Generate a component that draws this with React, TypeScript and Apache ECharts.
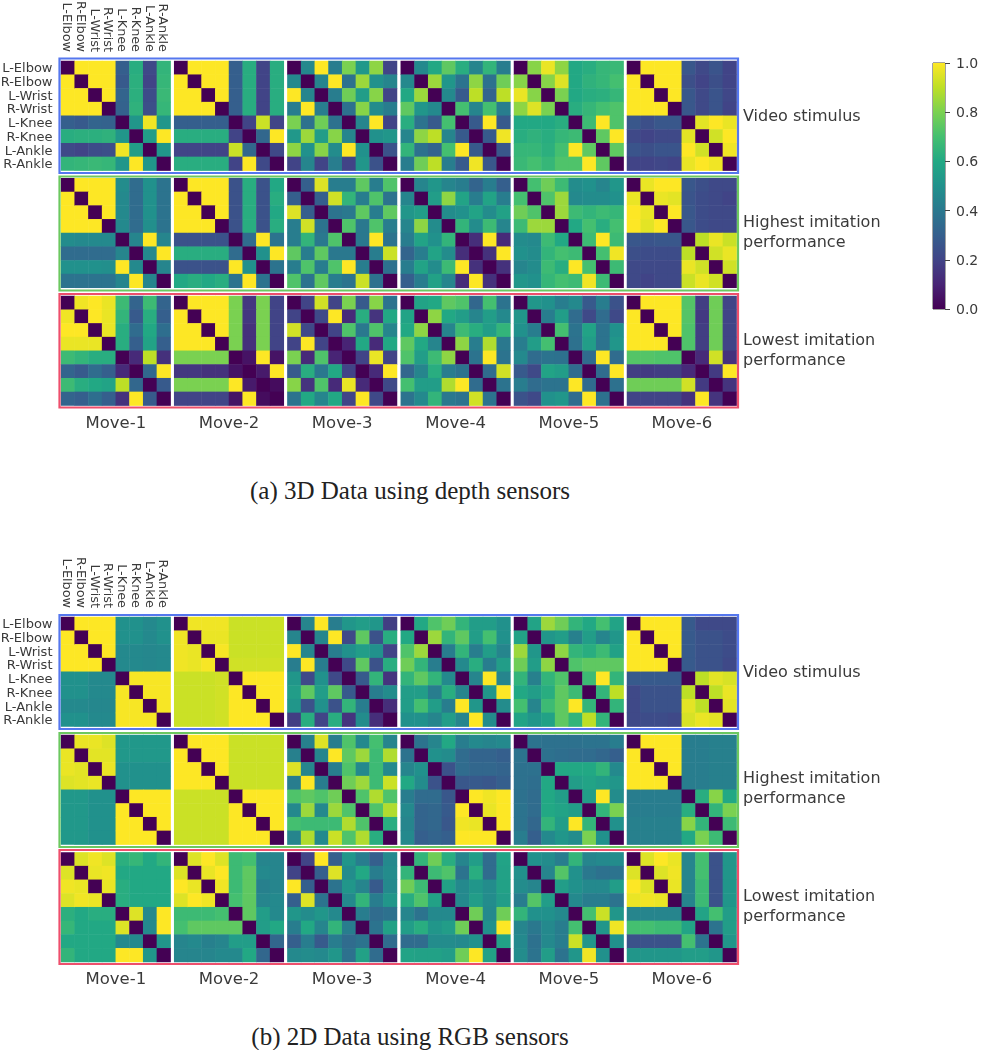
import React, { useEffect, useRef } from "react";
import * as echarts from "echarts";

const joints = ["L-Elbow", "R-Elbow", "L-Wrist", "R-Wrist", "L-Knee", "R-Knee", "L-Ankle", "R-Ankle"];
const moves = ["Move-1", "Move-2", "Move-3", "Move-4", "Move-5", "Move-6"];
const rowTexts = ["Video stimulus", "Highest imitation\nperformance", "Lowest imitation\nperformance"];
const captions = ["(a) 3D Data using depth sensors", "(b) 2D Data using RGB sensors"];
const barTicks = [0, 0.2, 0.4, 0.6, 0.8, 1];
const viridis = ["#440154", "#482475", "#414487", "#355f8d", "#2a788e", "#21918c", "#22a884", "#44bf70", "#7ad151", "#bddf26", "#fde725"];

// Each matrix is symmetric with a zero diagonal: rows list the cells right of the diagonal.
const aV1 = [[1,1,1,.3,.62,.22,.65],[1,1,.28,.63,.2,.66],[1,.32,.63,.23,.67],[.31,.64,.24,.66],[.52,.98,.52],[.55,1],[.52]];
const aV2 = [[1,1,1,.3,.62,.2,.62],[1,1,.3,.62,.2,.62],[1,.3,.62,.2,.62],[.3,.62,.2,.62],[.2,.92,.2],[.33,1],[.22]];
const aV3 = [[.47,1,.42,.8,.53,.83,.2],[.45,1,.37,.85,.5,.45],[.42,.78,.55,.82,.2],[.37,.82,.48,.42],[.45,1,.2],[.5,.52],[.25]];
const aV4 = [[.47,.6,.75,.62,.45,.65,.42],[.85,.52,.38,.83,.37,.78],[.47,.28,.9,.32,.9],[.7,.45,.7,.42],[.28,1,.28],[.28,.98],[.27]];
const aV5 = [[.82,.97,.83,.6,.62,.66,.67],[.82,.95,.6,.64,.66,.7],[.8,.6,.62,.63,.66],[.62,.66,.7,.72],[.68,1,.72],[.75,1],[.75]];
const aV6 = [[1,1,1,.27,.22,.26,.2],[1,1,.24,.2,.24,.2],[1,.27,.22,.26,.21],[.27,.22,.26,.2],[.96,1,.97],[.93,1],[.98]];

const aH1 = [[1,1,1,.48,.35,.5,.38],[1,1,.47,.35,.5,.38],[1,.47,.35,.5,.38],[.47,.35,.49,.38],[.45,1,.45],[.47,1],[.45]];
const aH2 = [[1,1,1,.25,.62,.25,.6],[1,1,.25,.62,.25,.62],[1,.25,.62,.25,.6],[.25,.62,.25,.62],[.35,1,.38],[.5,1],[.38]];
const aH3 = [[.3,.95,.42,.42,.75,.42,.72],[.3,.93,.65,.42,.72,.38],[.38,.4,.75,.42,.75],[.72,.4,.72,.42],[.4,1,.38],[.42,.92],[.37]];
const aH4 = [[.45,.52,.45,.42,.32,.42,.3],[.55,.83,.58,.42,.58,.42],[.48,.5,.58,.48,.57],[.65,.48,.68,.45],[.13,1,.12],[.14,1],[.14]];
const aH5 = [[.7,.78,.68,.48,.5,.45,.52],[.72,.85,.47,.48,.48,.5],[.85,.68,.65,.68,.66],[.6,.7,.62,.7],[.68,1,.68],[.7,.98],[.68]];
const aH6 = [[.97,1,1,.27,.24,.22,.22],[.97,.96,.26,.23,.22,.2],[1,.27,.23,.22,.22],[.27,.23,.22,.22],[.9,.97,.92],[.93,.97],[.93]];

const aL1 = [[.98,1,.97,.68,.32,.68,.32],[1,.97,.65,.28,.62,.3],[.97,.62,.35,.6,.36],[.62,.3,.58,.3],[.12,.9,.14],[.33,1],[.28]];
const aL2 = [[1,1,1,.8,.16,.8,.2],[1,1,.8,.16,.8,.2],[1,.8,.14,.8,.2],[.8,.14,.8,.2],[.05,1,.05],[.07,1],[.03]];
const aL3 = [[.2,.93,.2,.8,.28,.82,.38],[.22,1,.12,.62,.15,.6],[.2,.72,.4,.72,.45],[.1,.6,.12,.6],[.2,.97,.2],[.12,1],[.22]];
const aL4 = [[.58,.6,.75,.72,.33,.7,.38],[.83,.6,.55,.45,.55,.47],[.45,.68,.62,.55,.65],[.83,.42,.88,.4],[.38,1,.38],[.35,.93],[.38]];
const aL5 = [[.52,.5,.42,.47,.28,.42,.25],[.42,.55,.35,.22,.35,.22],[.7,.38,.58,.38,.5],[.37,.55,.38,.52],[.35,1,.35],[.35,1],[.37]];
const aL6 = [[1,1,1,.73,.18,.78,.2],[1,1,.73,.17,.78,.2],[1,.72,.18,.78,.2],[.72,.18,.78,.2],[.12,.93,.14],[.17,1],[.15]];

const bV1 = [[1,1,1,.5,.5,.47,.5],[1,1,.5,.5,.47,.5],[1,.47,.47,.46,.47],[.47,.47,.46,.47],[.99,.99,.99],[.99,.99],[.99]];
const bV2 = [[.98,.98,.98,.92,.92,.92,.92],[.97,.97,.92,.92,.92,.92],[.99,.92,.92,.92,.92],[.93,.93,.93,.93],[1,1,1],[1,1],[1]];
const bV3 = [[.45,1,.42,.52,.55,.52,.18],[.45,1,.22,.75,.25,.62],[.42,.5,.55,.5,.2],[.22,.75,.25,.62],[.28,.65,.15],[.42,.48],[.13]];
const bV4 = [[.6,.72,.78,.65,.55,.55,.5],[.85,.65,.75,.55,.7,.5],[.42,.65,.42,.55,.45],[.47,.62,.42,.55],[.45,1,.45],[.52,1],[.48]];
const bV5 = [[.58,.85,.78,.65,.6,.7,.58],[.52,.55,.43,.55,.45,.52],[.83,.65,.62,.68,.57],[.72,.75,.75,.75],[.68,1,.65],[.65,.9],[.65]];
const bV6 = [[1,1,1,.28,.22,.22,.22],[1,1,.28,.25,.25,.23],[1,.28,.25,.25,.23],[.28,.25,.25,.22],[.9,.96,.94],[.9,.97],[.96]];

const bH1 = [[.97,.97,.95,.53,.53,.53,.53],[.96,.96,.53,.53,.53,.53],[.97,.5,.5,.5,.5],[.5,.5,.5,.5],[1,1,1],[1,1],[1]];
const bH2 = [[1,1,1,.92,.92,.92,.92],[1,1,.92,.92,.92,.92],[1,.92,.92,.92,.92],[.92,.92,.92,.92],[1,1,1],[1,1],[1]];
const bH3 = [[.43,.95,.42,.72,.47,.7,.45],[.45,1,.75,.85,.68,.88],[.42,.72,.47,.68,.47],[.78,.85,.68,.92],[.72,.88,.72],[.72,.88],[.62]];
const bH4 = [[.38,.45,.6,.42,.47,.45,.47],[.5,.48,.35,.32,.32,.3],[.25,.35,.33,.33,.32],[.27,.28,.27,.3],[1,.98,1],[.97,1],[1]];
const bH5 = [[.38,.37,.37,.37,.38,.38,.42],[.37,.36,.35,.35,.33,.3],[.6,.6,.6,.65,.47],[.55,.58,.55,.52],[.55,1,.48],[.65,.8],[.5]];
const bH6 = [[1,1,1,.42,.42,.43,.43],[1,1,.42,.42,.43,.43],[1,.42,.42,.43,.43],[.42,.42,.43,.43],[.62,.82,.6],[.65,.8],[.68]];

const bL1 = [[.95,.98,.95,.63,.66,.6,.65],[.97,.98,.6,.6,.6,.6],[.97,.62,.6,.6,.6],[.62,.6,.6,.6],[.95,.47,1],[.47,1],[.52]];
const bL2 = [[.95,1,.95,.68,.7,.45,.45],[.97,1,.68,.75,.47,.45],[.98,.68,.75,.43,.45],[.7,.75,.45,.47],[.75,.55,.47],[.55,.6],[.33]];
const bL3 = [[.2,1,.3,.52,.42,.3,.47],[.3,.95,.48,.6,.42,.48],[.38,.52,.45,.28,.47],[.47,.65,.42,.52],[.42,.35,.37],[.38,.57],[.35]];
const bL4 = [[.65,.78,.62,.45,.55,.35,.58],[.68,.72,.38,.62,.35,.57],[.57,.47,.52,.48,.57],[.47,.55,.48,.55],[.78,.47,.78],[.5,1],[.57]];
const bL5 = [[.5,.48,.42,.65,.45,.47,.48],[.45,.73,.5,.4,.37,.38],[.55,.5,.47,.47,.55],[.47,.42,.42,.38],[.7,.92,.52],[.52,.98],[.5]];
const bL6 = [[.95,1,.97,.45,.7,.25,.52],[.95,.98,.45,.7,.25,.52],[.97,.45,.68,.25,.52],[.45,.68,.25,.52],[.58,.7,.55],[.38,.55],[.52]];

const sections = [
  [[aV1, aV2, aV3, aV4, aV5, aV6], [aH1, aH2, aH3, aH4, aH5, aH6], [aL1, aL2, aL3, aL4, aL5, aL6]],
  [[bV1, bV2, bV3, bV4, bV5, bV6], [bH1, bH2, bH3, bH4, bH5, bH6], [bL1, bL2, bL3, bL4, bL5, bL6]],
];

// Layout
const panelLeft = [61, 174.2, 287.4, 400.8, 514, 627];
const panelSize = 109.6;
const rowTop = [[61, 178.2, 296], [617, 735, 852.4]];
const frames = [[[58.5, 173], [176.5, 290.5], [294, 407.5]], [[615, 729], [733, 847], [850, 964]]];
const frameColors = ["#5577ee", "#6cc860", "#ee4f6c"];
const rowTextY = [[115, 231, 349], [671, 787, 905]];
const captionY = [490, 1036];
const textColor = "#3a3a3a";

const expand = (upper: number[][]) => {
  const cells: number[][] = [];
  upper.forEach((row, i) => {
    cells.push([i, i, 0]);
    row.forEach((v, k) => {
      const j = i + k + 1;
      cells.push([j, i, v], [i, j, v]);
    });
  });
  cells.push([7, 7, 0]);
  return cells;
};

const buildOption = () => {
  const grid: any[] = [];
  const xAxis: any[] = [];
  const yAxis: any[] = [];
  const series: any[] = [];
  const graphic: any[] = [];
  sections.forEach((rows, s) => {
    rows.forEach((panels, r) => {
      const [top, bottom] = frames[s][r];
      graphic.push({
        type: "rect",
        z: 10,
        shape: { x: 59.5, y: top, width: 678.5, height: bottom - top },
        style: { fill: "none", stroke: frameColors[r], lineWidth: 2.2 },
      });
      graphic.push({
        type: "text",
        x: 743,
        y: rowTextY[s][r],
        style: {
          text: rowTexts[r],
          font: "16px 'DejaVu Sans'",
          lineHeight: 20,
          fill: textColor,
          verticalAlign: "middle",
          align: "left",
        },
      });
      panels.forEach((upper, p) => {
        const idx = grid.length;
        grid.push({
          left: panelLeft[p],
          top: rowTop[s][r],
          width: panelSize,
          height: panelSize,
          outerBoundsMode: "none",
        });
        const isTopLeft = r === 0 && p === 0;
        const isBottom = r === 2;
        xAxis.push({
          gridIndex: idx,
          type: "category",
          data: joints,
          position: isBottom ? "bottom" : "top",
          axisLine: { show: false },
          axisTick: { show: false },
          splitLine: { show: false },
          axisLabel: {
            show: isTopLeft,
            interval: 0,
            rotate: 90,
            margin: 9,
            fontFamily: "DejaVu Sans",
            fontSize: 12.8,
            color: textColor,
            hideOverlap: false,
          },
          name: isBottom ? moves[p] : "",
          nameLocation: "middle",
          nameGap: 8,
          nameTextStyle: { fontFamily: "DejaVu Sans", fontSize: 16.5, color: textColor, verticalAlign: "top" },
        });
        yAxis.push({
          gridIndex: idx,
          type: "category",
          data: joints,
          inverse: true,
          axisLine: { show: false },
          axisTick: { show: false },
          splitLine: { show: false },
          axisLabel: {
            show: isTopLeft,
            interval: 0,
            margin: 8.5,
            fontFamily: "DejaVu Sans",
            fontSize: 13,
            color: textColor,
          },
        });
        series.push({
          type: "heatmap",
          xAxisIndex: idx,
          yAxisIndex: idx,
          data: expand(upper),
          silent: true,
          itemStyle: { borderWidth: 0 },
          emphasis: { disabled: true },
          progressive: 0,
        });
      });
    });
  });
  const heatCount = series.length;
  grid.push({
    left: 933,
    top: 63,
    width: 12,
    height: 246,
    show: true,
    borderColor: "#444444",
    borderWidth: 1,
    backgroundColor: "transparent",
    outerBoundsMode: "none",
  });
  xAxis.push({ gridIndex: heatCount, type: "category", data: [""], show: false });
  yAxis.push({
    gridIndex: heatCount,
    type: "value",
    position: "right",
    min: 0,
    max: 1,
    interval: 0.2,
    splitLine: { show: false },
    axisLine: { show: false },
    axisTick: { show: true, length: 5, lineStyle: { color: "#444444" } },
    axisLabel: {
      margin: 11,
      fontFamily: "DejaVu Sans",
      fontSize: 14,
      color: textColor,
      customValues: barTicks,
      formatter: (v: number) => v.toFixed(1),
    },
  });
  series.push({
    type: "bar",
    xAxisIndex: heatCount,
    yAxisIndex: heatCount,
    data: [1],
    barWidth: "100%",
    silent: true,
    itemStyle: {
      color: new echarts.graphic.LinearGradient(
        0,
        1,
        0,
        0,
        viridis.map((color, i) => ({ offset: i / (viridis.length - 1), color }))
      ),
    },
  });
  return {
    animation: false,
    grid,
    xAxis,
    yAxis,
    series,
    graphic,
    visualMap: {
      show: false,
      type: "continuous",
      min: 0,
      max: 1,
      dimension: 2,
      seriesIndex: Array.from({ length: heatCount }, (_, i) => i),
      inRange: { color: viridis },
    },
  };
};

const buildCaptionOption = () => ({
  animation: false,
  graphic: captions.map((text, i) => ({
    type: "text",
    x: 410,
    y: captionY[i],
    style: {
      text,
      font: "25px 'Liberation Serif'",
      fill: "#222222",
      align: "center",
      verticalAlign: "middle",
    },
  })),
});

const layer: React.CSSProperties = { position: "absolute", left: 0, top: 0, width: 987, height: 1050 };

export default function App() {
  const ref = useRef<HTMLDivElement>(null);
  const captionRef = useRef<HTMLDivElement>(null);
  useEffect(() => {
    const chart = echarts.init(ref.current!, undefined, { renderer: "svg" });
    chart.setOption(buildOption() as any);
    const captionChart = echarts.init(captionRef.current!, undefined, { renderer: "svg" });
    captionChart.setOption(buildCaptionOption() as any);
    return () => {
      chart.dispose();
      captionChart.dispose();
    };
  }, []);
  return (
    <>
      <div ref={ref} style={{ ...layer, filter: "blur(0.6px)" }} />
      <div ref={captionRef} style={{ ...layer, pointerEvents: "none" }} />
    </>
  );
}
